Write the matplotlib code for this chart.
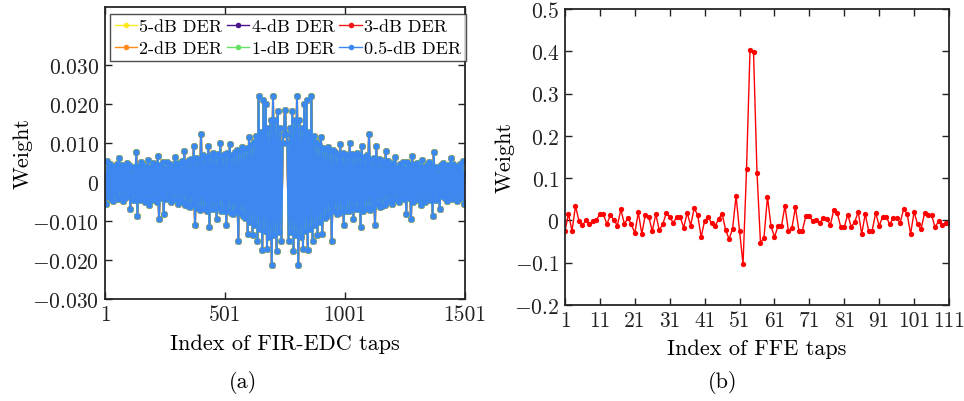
import numpy as np
import matplotlib.pyplot as plt

plt.rcParams['font.family'] = 'serif'
plt.rcParams['font.serif'] = ['cmr10']
plt.rcParams['mathtext.fontset'] = 'cm'
plt.rcParams['axes.unicode_minus'] = False

# (a) FIR-EDC weights, every 5th tap from 1 to 751, in units of 1e-3
# (the filter is symmetric about the centre tap 751)
fir_half_milli = [
    2.0, -5.7, 5.5, -3.8, 4.6, -4.2, 3.5, -4.9, 4.1, -3.2,
    4.8, -4.4, 6.2, -3.9, 4.3, -4.8, 3.7, -4.1, 5.0, -3.6,
    4.4, -7.0, 3.9, -4.5, 4.0, -4.7, 7.7, -8.7, 4.2, -4.6,
    5.1, -3.9, 4.5, -5.2, 3.8, -4.3, 5.6, -5.9, 4.0, -4.7,
    4.9, -3.7, 4.6, -5.0, 6.8, -9.4, 4.4, -4.1, 5.3, -8.2,
    3.6, -4.4, 5.2, -3.9, 4.8, -5.1, 3.9, -4.6, 6.4, -4.3,
    4.9, -5.5, 4.2, -4.7, 5.4, -5.0, 8.1, -5.8, 5.2, -6.1,
    5.7, -6.4, 6.0, -5.6, 9.4, -11.1, 6.3, -6.7, 5.9, -7.2,
    12.4, -6.5, 7.0, -6.8, 6.6, -7.4, 9.4, -11.4, 7.1, -6.9,
    7.5, -7.0, 6.8, -9.4, 7.2, -6.6, 10.0, -7.3, 6.9, -7.5,
    7.2, -10.9, 7.6, -7.3, 9.8, -7.8, 7.0, -8.1, 7.7, -7.4,
    8.2, -15.1, 8.0, -8.0, 9.0, -8.6, 8.4, -9.1, 8.8, -13.4,
    11.5, -10.2, 9.6, -13.6, 10.4, -11.0, 11.8, -15.0, 22.2, -12.1,
    12.9, -17.5, 21.0, -12.6, 20.0, -17.1, 13.8, -14.2, 16.0, -21.3,
    22.2, -13.5, 16.0, -17.6, 18.3, -12.8, 14.0, -15.0, 10.0, 12.5,
    18.6,
]
fir_step = 5
der_labels = ['5-dB DER', '4-dB DER', '3-dB DER', '2-dB DER', '1-dB DER', '0.5-dB DER']
der_colors = ['#FFE81A', '#4A148C', '#F01818', '#FF8C1A', '#66E066', '#3C87F0']
fir_yticks = [-0.03, -0.02, -0.01, 0, 0.01, 0.02, 0.03]
fir_yticklabels = ['$-0.030$', '$-0.020$', '$-0.010$', '$0$', '$0.010$', '$0.020$', '$0.030$']
fir_xticks = [1, 501, 1001, 1501]

# (b) FFE weights, taps 1..111
ffe_w = [
    -0.025, 0.016, -0.025, 0.034, -0.001, -0.011, 0.000, -0.009, -0.002, 0.001,
    0.015, 0.015, -0.009, 0.013, 0.001, -0.012, 0.026, -0.008, 0.005, -0.009,
    -0.030, 0.019, -0.032, 0.013, 0.009, -0.026, 0.015, -0.023, -0.009, 0.017,
    0.009, -0.006, 0.008, 0.008, -0.017, 0.018, -0.012, 0.029, 0.013, -0.039,
    -0.001, 0.007, -0.006, -0.013, 0.003, 0.016, -0.022, -0.044, -0.020, 0.058,
    -0.025, -0.103, 0.121, 0.402, 0.399, 0.113, -0.053, -0.041, 0.056, -0.013,
    -0.039, -0.014, -0.014, 0.034, -0.025, -0.018, 0.031, -0.024, -0.024, 0.011,
    0.010, -0.002, 0.001, -0.006, 0.006, 0.004, -0.011, 0.025, 0.017, -0.016,
    -0.015, 0.014, -0.016, -0.003, 0.020, -0.032, 0.015, -0.025, -0.024, 0.018,
    -0.013, 0.009, 0.009, -0.009, 0.005, 0.006, -0.006, 0.027, 0.016, -0.032,
    0.020, -0.009, -0.020, 0.017, 0.013, 0.013, -0.016, -0.002, -0.011, -0.006,
    -0.006,
]
ffe_xticks = list(range(1, 112, 10))
ffe_yticks = [-0.2, -0.1, 0, 0.1, 0.2, 0.3, 0.4, 0.5]
ffe_yticklabels = ['$-0.2$', '$-0.1$', '$0$', '$0.1$', '$0.2$', '$0.3$', '$0.4$', '$0.5$']

half = np.array(fir_half_milli) * 1e-3
fir_w = np.concatenate([half, half[-2::-1]])
fir_taps = 1 + fir_step * np.arange(len(fir_w))
ffe_taps = np.arange(1, len(ffe_w) + 1)

W, H = 964, 402
fig = plt.figure(figsize=(W / 100, H / 100), dpi=100)

ax1 = fig.add_axes([105 / W, 1 - 300 / H, 360 / W, 292 / H])
ax2 = fig.add_axes([565 / W, 1 - 306 / H, 384 / W, 296 / H])

handles = []
for i, (lab, col) in enumerate(zip(der_labels, der_colors)):
    ms = 4.8 if i < 5 else 4.4
    h, = ax1.plot(fir_taps, fir_w, '-o', color=col, lw=1.4, ms=ms,
                  markeredgewidth=0, label=lab)
    handles.append(h)

ax1.set_xlim(1, 1501)
ax1.set_ylim(-0.03, 0.045)
ax1.set_xticks(fir_xticks)
ax1.set_xticklabels([str(t) for t in fir_xticks])
ax1.set_yticks(fir_yticks)
ax1.set_yticklabels(fir_yticklabels)
ax1.set_xlabel('Index of FIR-EDC taps', fontsize=16, labelpad=7)
ax1.set_ylabel('Weight', fontsize=16, labelpad=0)

# legend is filled column by column, so interleave rows
order = [0, 3, 1, 4, 2, 5]
leg = ax1.legend(handles=[handles[k] for k in order], ncol=3, loc='upper left',
                 bbox_to_anchor=(110 / W, 1 - 15 / H), bbox_transform=fig.transFigure,
                 fontsize=13, frameon=True, fancybox=False, edgecolor='#222222',
                 handlelength=1.25, handletextpad=0.12, columnspacing=0.25,
                 borderpad=0.25, labelspacing=0.35, borderaxespad=0)
leg.get_frame().set_linewidth(1.0)
for lh in leg.get_lines():
    lh.set_linewidth(1.0)
    lh.set_markersize(4.0)

ax2.plot(ffe_taps, ffe_w, '-o', color='#FF0000', lw=1.0, ms=3.8, markeredgewidth=0)
ax2.set_xlim(1, 111)
ax2.set_ylim(-0.2, 0.5)
ax2.set_xticks(ffe_xticks)
ax2.set_xticklabels([str(t) for t in ffe_xticks])
ax2.set_yticks(ffe_yticks)
ax2.set_yticklabels(ffe_yticklabels)
ax2.set_xlabel('Index of FFE taps', fontsize=16, labelpad=6)
ax2.set_ylabel('Weight', fontsize=16, labelpad=0)

for ax in (ax1, ax2):
    ax.tick_params(direction='in', length=5, width=1.0, top=True, right=True,
                   labelsize=15.5, colors='#222222', pad=4)
    for s in ax.spines.values():
        s.set_linewidth(1.3)
        s.set_color('#262626')

fig.text(243 / W, 1 - 383 / H, '(a)', fontsize=16, ha='center', va='center')
fig.text(723 / W, 1 - 383 / H, '(b)', fontsize=16, ha='center', va='center')

fig.savefig('out.png', dpi=100)
